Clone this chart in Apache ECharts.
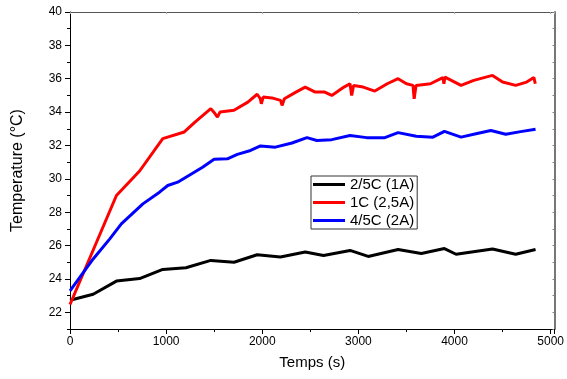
<!DOCTYPE html>
<html>
<head>
<meta charset="utf-8">
<script src="https://cdn.jsdelivr.net/npm/echarts@6/dist/echarts.min.js"></script>
<style>html,body{margin:0;padding:0;background:#fff;}#c{width:567px;height:379px;}</style>
</head>
<body>
<div id="c"></div>
<script>
var seriesNames = ['2/5C (1A)', '1C (2,5A)', '4/5C (2A)'];
var blackTime = [0, 241, 483, 724, 965, 1206, 1465, 1706, 1947, 2189, 2447, 2637, 2913, 3102, 3413, 3654, 3895, 4016, 4395, 4636, 4843];
var blackTemp = [22.72, 23.08, 23.87, 24.02, 24.57, 24.67, 25.11, 25.0, 25.45, 25.31, 25.61, 25.4, 25.71, 25.35, 25.76, 25.52, 25.82, 25.48, 25.8, 25.48, 25.76];
var redTime = [0, 483, 724, 965, 1189, 1300, 1465, 1510, 1534, 1560, 1706, 1850, 1947, 1980, 1990, 2010, 2100, 2190, 2206, 2230, 2350, 2447, 2551, 2650, 2723, 2850, 2913, 2930, 2950, 3050, 3171, 3300, 3413, 3500, 3568, 3580, 3600, 3750, 3878, 3890, 3900, 4068, 4200, 4395, 4500, 4636, 4750, 4826, 4840];
var redTemp = [22.47, 29.0, 30.47, 32.41, 32.81, 33.4, 34.21, 33.9, 33.7, 34.0, 34.11, 34.6, 35.07, 34.8, 34.5, 34.9, 34.85, 34.7, 34.4, 34.8, 35.2, 35.5, 35.2, 35.2, 35.0, 35.5, 35.7, 35.0, 35.6, 35.5, 35.26, 35.7, 36.0, 35.7, 35.6, 34.8, 35.6, 35.7, 36.07, 35.7, 36.1, 35.6, 35.9, 36.2, 35.8, 35.6, 35.8, 36.07, 35.7];
var blueTime = [0, 241, 414, 534, 758, 931, 1017, 1120, 1379, 1499, 1637, 1741, 1878, 1982, 2137, 2309, 2465, 2568, 2723, 2913, 3085, 3275, 3413, 3602, 3775, 3895, 4068, 4223, 4378, 4533, 4688, 4843];
var blueTemp = [23.29, 25.2, 26.4, 27.3, 28.5, 29.2, 29.6, 29.8, 30.7, 31.17, 31.2, 31.47, 31.7, 31.97, 31.9, 32.15, 32.47, 32.3, 32.35, 32.6, 32.47, 32.47, 32.77, 32.55, 32.5, 32.85, 32.5, 32.7, 32.9, 32.67, 32.83, 32.97];
var yMajorTicks = [22, 24, 26, 28, 30, 32, 34, 36, 38, 40];
var yMinorTicks = [21, 23, 25, 27, 29, 31, 33, 35, 37, 39];

function pairs(t, v) { return t.map(function (x, i) { return [x, v[i]]; }); }

var chart = echarts.init(document.getElementById('c'), null, {renderer: 'canvas'});
var font = 'Liberation Sans, Arial, sans-serif';
var lineStyleAxis = {color: '#000', width: 1};
chart.setOption({
  animation: false,
  backgroundColor: '#fff',
  grid: {left: 70, right: 10, top: 12, bottom: 50},
  legend: {
    orient: 'vertical', left: 311, top: 176,
    data: seriesNames,
    icon: 'rect',
    itemWidth: 32, itemHeight: 3, itemGap: 3,
    padding: [1, 3, 1, 2],
    borderColor: '#333', borderWidth: 1,
    textStyle: {fontFamily: font, fontSize: 15, color: '#000', lineHeight: 15}
  },
  xAxis: [{
    type: 'value', min: 0, max: 5040, interval: 1000,
    name: 'Temps (s)', nameLocation: 'middle', nameGap: 26,
    nameTextStyle: {fontFamily: font, fontSize: 15, color: '#000'},
    axisLine: {show: true, onZero: false, lineStyle: lineStyleAxis},
    axisTick: {show: true, length: 5, lineStyle: lineStyleAxis},
    minorTick: {show: true, splitNumber: 2, length: 3, lineStyle: lineStyleAxis},
    axisLabel: {fontFamily: font, fontSize: 12, color: '#000', margin: 7,
      formatter: function (v) { return v <= 5000 ? String(v) : ''; }},
    splitLine: {show: false}
  }, {
    type: 'value', min: 0, max: 5040, interval: 1000, position: 'top',
    axisLine: {show: true, onZero: false, lineStyle: {color: '#555', width: 1}},
    axisTick: {show: true, inside: true, length: 2, lineStyle: {color: '#aaa'}},
    axisLabel: {show: false}, splitLine: {show: false}
  }],
  yAxis: [{
    type: 'value', min: 21, max: 40, interval: 1,
    name: 'Temperature (°C)', nameLocation: 'middle', nameGap: 44,
    nameTextStyle: {fontFamily: font, fontSize: 16, color: '#000'},
    axisLine: {show: true, onZero: false, lineStyle: lineStyleAxis},
    axisTick: {show: true, length: 5, customValues: yMajorTicks, lineStyle: lineStyleAxis},
    axisLabel: {fontFamily: font, fontSize: 12, color: '#000', margin: 8, customValues: yMajorTicks},
    splitLine: {show: false}
  }, {
    type: 'value', min: 21, max: 40, interval: 1, position: 'left',
    axisLine: {show: false},
    axisTick: {show: true, length: 3, customValues: yMinorTicks, lineStyle: lineStyleAxis},
    axisLabel: {show: false}, splitLine: {show: false}
  }, {
    type: 'value', min: 21, max: 40, interval: 1, position: 'right',
    axisLine: {show: true, onZero: false, lineStyle: {color: '#777', width: 2}},
    axisTick: {show: true, inside: true, length: 2, lineStyle: {color: '#888'}},
    axisLabel: {show: false}, splitLine: {show: false}
  }],
  series: [{
    name: seriesNames[0], type: 'line', symbol: 'none', data: pairs(blackTime, blackTemp),
    lineStyle: {color: '#000', width: 3}, itemStyle: {color: '#000'}
  }, {
    name: seriesNames[1], type: 'line', symbol: 'none', data: pairs(redTime, redTemp),
    lineStyle: {color: '#ff0000', width: 3}, itemStyle: {color: '#ff0000'}
  }, {
    name: seriesNames[2], type: 'line', symbol: 'none', data: pairs(blueTime, blueTemp),
    lineStyle: {color: '#0000ff', width: 3}, itemStyle: {color: '#0000ff'}
  }]
});
</script>
</body>
</html>
